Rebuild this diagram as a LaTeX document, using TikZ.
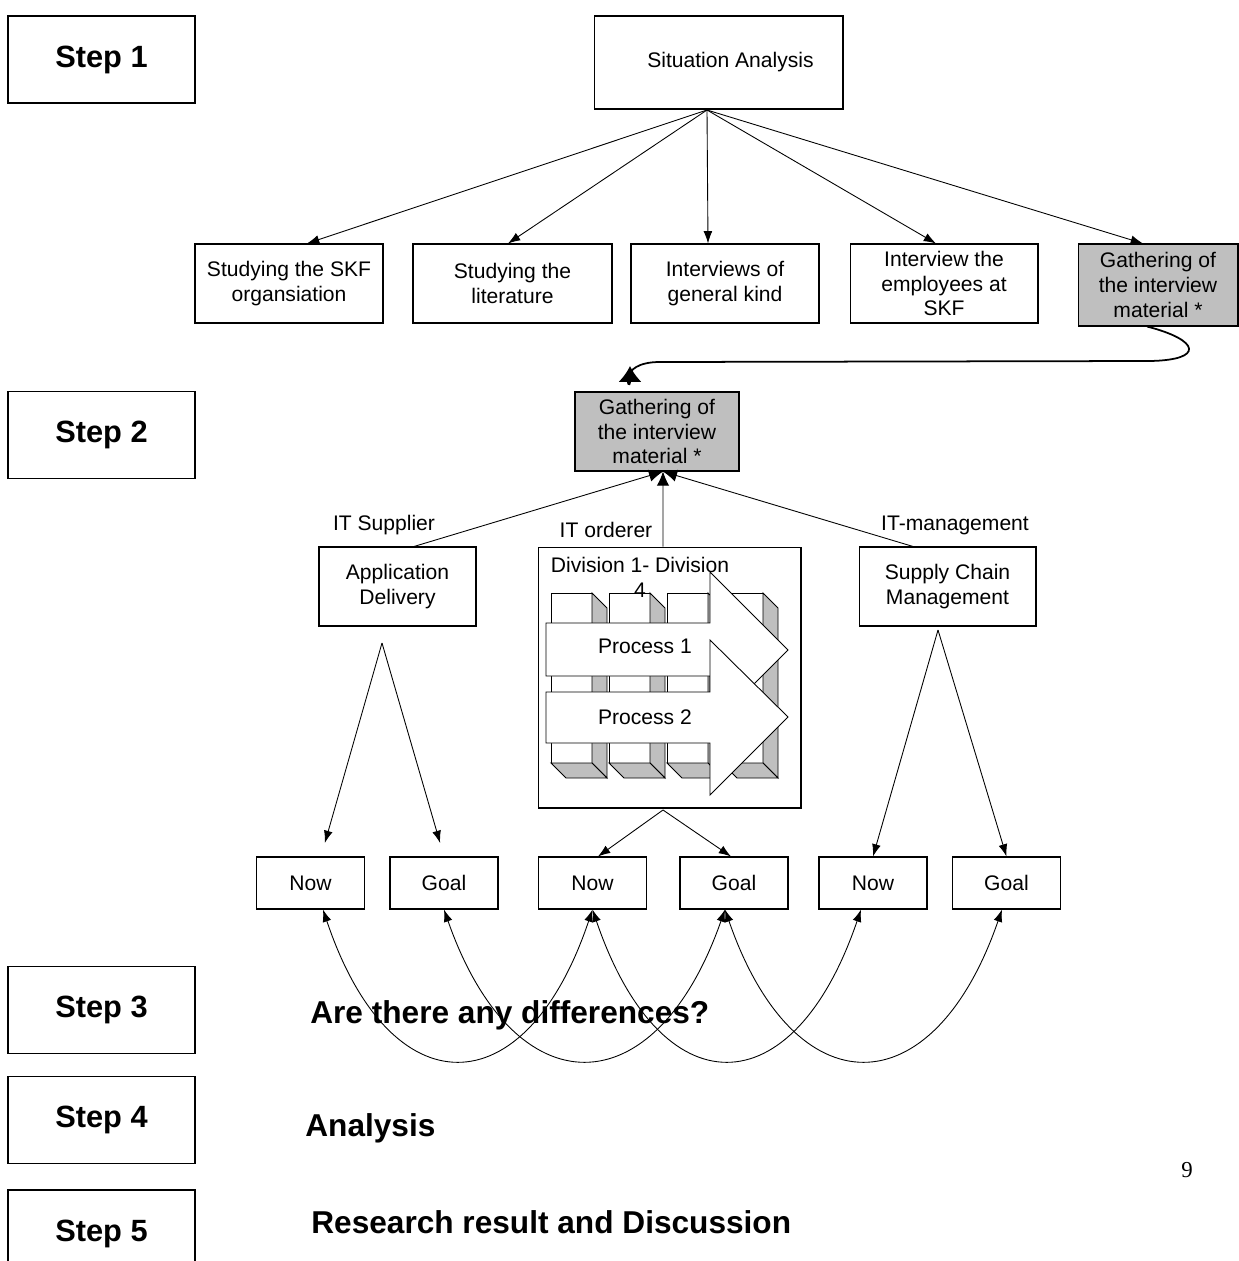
\documentclass[tikz,border=0pt]{standalone}
\usepackage{fontspec}
\setmainfont{Liberation Sans}
\newfontfamily\pagefont{Liberation Serif}
\usetikzlibrary{arrows.meta}
\tikzset{
  box/.style={draw, line width=0.6pt, align=center, inner sep=1pt, font=\fontsize{12}{14.2}\selectfont},
  graybox/.style={box, fill=black!25},
  pairbox/.style={box, minimum width=2.16cm, minimum height=1.04cm},
  stepbox/.style={draw, line width=0.6pt, minimum width=3.74cm, minimum height=1.74cm, font=\fontsize{17.5}{21}\selectfont\bfseries},
  bigtext/.style={anchor=west, inner sep=0pt, font=\fontsize{18}{21}\selectfont\bfseries},
  lbl/.style={font=\fontsize{12}{14.2}\selectfont},
  arr/.style={-{Latex[length=7pt,width=5pt]}, line width=0.5pt},
  bigarr/.style={-{Latex[length=8pt,width=7pt]}, line width=0.5pt},
  twoway/.style={{Latex[length=7pt,width=5pt]}-{Latex[length=7pt,width=5pt]}, line width=0.5pt},
  shade3d/.style={draw, fill=black!25, line width=0.5pt},
  procarrow/.style={draw, fill=white, line width=0.5pt}
}
\begin{document}
\begin{tikzpicture}[x=0.02cm,y=-0.02cm]
\useasboundingbox (0,0) rectangle (1239,1261);

\node[stepbox] (s1) at (101.5,59.5) {Step 1};
\node[stepbox] (s2) at (101.5,435) {Step 2};
\node[stepbox] (s3) at (101.5,1010) {Step 3};
\node[stepbox] (s4) at (101.5,1120) {Step 4};
\node[stepbox] (s5) at (101.5,1233.5) {Step 5};

% step 1
\node[box, minimum width=4.98cm, minimum height=1.86cm] (sit) at (718.5,62.5) {\hspace*{0.48cm}Situation Analysis};
\node[box, minimum width=3.76cm, minimum height=1.58cm] (skf) at (289,283.5) {Studying the SKF\\organsiation};
\node[box, minimum width=3.98cm, minimum height=1.58cm] (lit) at (512.5,283.5) {Studying the\\literature};
\node[box, minimum width=3.76cm, minimum height=1.58cm] (gen) at (725,283.5) {Interviews of\\general kind};
\node[box, minimum width=3.76cm, minimum height=1.58cm] (emp) at (944,283.5) {Interview the\\employees at\\SKF};
\node[graybox, minimum width=3.2cm, minimum height=1.64cm] (gath1) at (1158,285) {Gathering of\\the interview\\material *};

\coordinate (sitfoot) at (707,110);
\foreach \n/\dx in {skf/0.36, lit/-0.09, gen/-0.34, emp/-0.16, gath1/-0.3}
  \draw[arr] (sitfoot) -- ([xshift=\dx cm]\n.north);

% step 2
\node[graybox, minimum width=3.28cm, minimum height=1.58cm] (gath2) at (657,431.5) {Gathering of\\the interview\\material *};
\draw[line width=1pt, -{Latex[length=9pt,width=13pt]}] ([xshift=-0.22cm]gath1.south) .. controls (1200,340) and (1205,360) .. (1150,361) -- (660,362) .. controls (615,362) and (630,395) .. (630,366);

\node[box, minimum width=3.14cm, minimum height=1.58cm] (app) at (397.5,586.5) {Application\\Delivery};
\node[draw, line width=0.6pt, minimum width=5.26cm, minimum height=5.22cm] (div) at (669.5,677.5) {};
\node[box, minimum width=3.54cm, minimum height=1.58cm] (scm) at (947.5,586.5) {Supply Chain\\Management};

\node[lbl] (itsup) at (384,525) {IT Supplier};
\node[lbl] (itord) at (606,530) {IT orderer};
\node[lbl] (itman) at (955,525) {IT-management};

\draw[bigarr] ([xshift=0.33cm]app.north) -- ([xshift=0.12cm]gath2.south);
\draw[bigarr] ([xshift=-0.13cm]div.north) -- ([xshift=0.12cm]gath2.south);
\draw[bigarr] ([xshift=-0.69cm]scm.north) -- ([xshift=0.12cm]gath2.south);

% divisions and processes
\foreach \cx in {551,609,667,722}{
  \draw[line width=0.5pt, fill=white] (\cx,593) rectangle (\cx+41,763);
  \draw[shade3d] (\cx+41,593) -- (\cx+56,608) -- (\cx+56,778) -- (\cx+41,763) -- cycle;
  \draw[shade3d] (\cx,763) -- (\cx+41,763) -- (\cx+56,778) -- (\cx+15,778) -- cycle;
}
\draw[procarrow] (546,623) -- (710,623) -- (710,572) -- (788,650) -- (710,728) -- (710,676) -- (546,676) -- cycle;
\node[lbl] (p1) at (645,646) {Process 1};
\draw[procarrow] (546,692) -- (710,692) -- (710,640) -- (788,717) -- (710,795) -- (710,743) -- (546,743) -- cycle;
\node[lbl] (p2) at (645,717) {Process 2};
\node[lbl, align=center] (divlbl) at (640,577.5) {Division 1- Division\\4};

\node[pairbox] (now1) at (310.5,883) {Now};
\node[pairbox] (goal1) at (444,883) {Goal};
\node[pairbox] (now2) at (592.5,883) {Now};
\node[pairbox] (goal2) at (734,883) {Goal};
\node[pairbox] (now3) at (873,883) {Now};
\node[pairbox] (goal3) at (1006.5,883) {Goal};

\coordinate (appfoot) at (382,643);
\coordinate (divfoot) at (663,810);
\coordinate (scmfoot) at (938,630);
\draw[arr, shorten >=8pt] (appfoot) -- ([xshift=0.21cm]now1.north);
\draw[arr, shorten >=8pt] (appfoot) -- (goal1.north);
\draw[arr] (divfoot) -- ([xshift=0.11cm]now2.north);
\draw[arr] (divfoot) -- ([xshift=-0.06cm]goal2.north);
\draw[arr] (scmfoot) -- (now3.north);
\draw[arr] (scmfoot) -- (goal3.north);

% steps 3 to 5
\node[bigtext] (diff) at (310,1015) {Are there any differences?};
\node[bigtext] (ana) at (305,1128) {Analysis};
\node[bigtext] (res) at (311,1222) {Research result and Discussion};
\node[font=\pagefont\fontsize{13}{15}\selectfont] (pg) at (1187,1170) {9};

\draw[twoway] ([xshift=0.25cm]now1.south) .. controls +(67,200) and +(-67,200) .. (now2.south);
\draw[twoway] (goal1.south) .. controls +(70,200) and +(-70,200) .. ([xshift=-0.18cm]goal2.south);
\draw[twoway] (now2.south) .. controls +(68,200) and +(-68,200) .. ([xshift=-0.24cm]now3.south);
\draw[twoway] ([xshift=-0.18cm]goal2.south) .. controls +(69,200) and +(-69,200) .. ([xshift=-0.09cm]goal3.south);
\end{tikzpicture}
\end{document}
